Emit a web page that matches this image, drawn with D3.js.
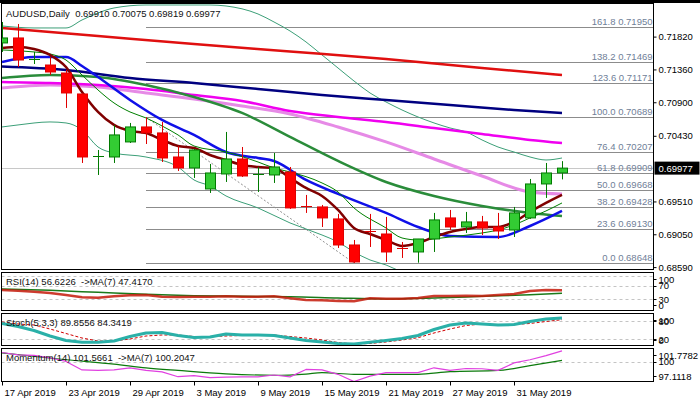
<!DOCTYPE html>
<html>
<head>
<meta charset="utf-8">
<title>AUDUSD Daily</title>
<style>
body { margin: 0; background: #fff; }
svg { display: block; font-family: "Liberation Sans", Arial, sans-serif; font-size: 9.5px; }
.frame { fill: none; stroke: #000; stroke-width: 1px; }
.fib { stroke: #8c8c8c; stroke-width: 1px; }
.fib-label { fill: #6f8098; text-anchor: end; }
.level { stroke: #c4c4c4; stroke-width: 1px; stroke-dasharray: 3,3; }
.axis text { fill: #000; font-size: 9.5px; }
.axis line { stroke: #000; }
.axis .domain { display: none; }
.ind-label { fill: #111; white-space: pre; }
</style>
</head>
<body>
<script src="https://cdnjs.cloudflare.com/ajax/libs/d3/7.8.5/d3.min.js"></script>
<script>
var n = null;

// bars (daily)
var dates = ["2019-04-17","2019-04-18","2019-04-19","2019-04-22","2019-04-23","2019-04-24","2019-04-25","2019-04-26","2019-04-29","2019-04-30",
  "2019-05-01","2019-05-02","2019-05-03","2019-05-06","2019-05-07","2019-05-08","2019-05-09","2019-05-10","2019-05-13","2019-05-14",
  "2019-05-15","2019-05-16","2019-05-17","2019-05-20","2019-05-21","2019-05-22","2019-05-23","2019-05-24","2019-05-27","2019-05-28",
  "2019-05-29","2019-05-30","2019-05-31","2019-06-03","2019-06-04","2019-06-05"];

var opens = [0.71731,0.71801,0.71499,0.71422,0.71310,0.71016,0.70133,0.70133,0.70344,0.70554,
  0.70470,0.70133,0.69979,0.69685,0.69895,0.70105,0.69881,0.69881,0.69923,0.69440,
  0.69433,0.69265,0.68900,0.69096,0.69054,0.68851,0.68802,0.68984,0.69279,0.69152,
  0.69223,0.69152,0.69110,0.69279,0.69755,0.69910];
var highs = [0.72025,0.71997,0.71605,0.71534,0.71352,0.71023,0.70231,0.70582,0.70610,0.70689,
  0.70624,0.70287,0.70245,0.70035,0.70484,0.70273,0.69993,0.70189,0.69993,0.69601,
  0.69461,0.69335,0.68970,0.69335,0.69293,0.68942,0.68984,0.69349,0.69391,0.69363,
  0.69307,0.69349,0.69433,0.69825,0.70049,0.70075];
var lows = [0.71605,0.71394,0.71436,0.71282,0.70820,0.70049,0.69881,0.70049,0.70329,0.70315,
  0.70063,0.69937,0.69839,0.69629,0.69783,0.69853,0.69643,0.69769,0.69405,0.69349,
  0.69152,0.68858,0.68648,0.68872,0.68662,0.68718,0.68652,0.68802,0.69110,0.69068,
  0.69040,0.68984,0.69012,0.69265,0.69559,0.69819];
var closes = [0.71801,0.71492,0.71506,0.71324,0.71030,0.70133,0.70140,0.70442,0.70554,0.70470,
  0.70119,0.69979,0.70231,0.69909,0.70105,0.69867,0.69888,0.69993,0.69419,0.69433,
  0.69279,0.68900,0.68662,0.69082,0.68802,0.68844,0.68984,0.69251,0.69152,0.69223,
  0.69138,0.69096,0.69349,0.69755,0.69909,0.69977];

// moving averages / bands (null = not read)
var maRed = [0.71941,n,n,n,n,n, 0.71829,n,n,n,n,n, 0.71717,n,n,n,n,n, 0.71612,n,n,n,n,n, 0.71506,n,n,n,n,n, 0.71380,n,n,n,n,0.71282];
var maNavy = [0.71401,n,n,n, 0.71352,n,n,n, 0.71240,n,n,n, 0.71170,n,n,n, 0.71086,n,n,n, 0.71002,n,n,n, 0.70932,n,n,n, 0.70862,n,n,n, 0.70792,n,n,0.70750];
var maMagenta = [0.71184,n,n, 0.71170,n,n, 0.71142,n,n, 0.71086,n,n, 0.71002,n,n, 0.70918,n,n, 0.70778,n,n, 0.70694,n,n, 0.70624,n,n, 0.70540,n,n, 0.70456,n,n, 0.70372,n,0.70329];
var maViolet = [0.71100,n,n, 0.71142,n,n, 0.71114,n,n, 0.71030,n,n, 0.70946,n,n, 0.70848,n,n, 0.70736,n,n, 0.70554,n,n, 0.70344,n,n, 0.70105,n,n, 0.69867,n,n, 0.69643,n,0.69615];
var maGreen = [0.71240,n,n, 0.71282,n,n, 0.71254,n,n, 0.71142,n,n, 0.70974,n,n, 0.70750,n,n, 0.70414,n,n, 0.70077,n,n, 0.69783,n,n, 0.69587,n,n, 0.69447,n,n, 0.69349,n,0.69307];
var maBlue = [0.71464,n,0.71534,n,0.71534,0.71408,0.71254,n,0.70932,n,0.70652,n,0.70442,n,0.70203,n,0.70119,0.70077,n,0.69811,
  n,0.69615,n,n,0.69349,n,0.69152,n,0.69026,n,n,0.69012,n,0.69166,n,0.69377];
var maMaroon = [0.71661,0.71675,0.71647,0.71563,0.71394,0.71044,0.70764,0.70582,0.70498,0.70470,
  0.70372,0.70287,0.70259,0.70161,0.70091,0.70021,0.69993,0.69979,0.69839,0.69699,
  0.69587,0.69391,0.69138,0.69054,0.68970,0.68886,0.68928,0.69012,0.69082,0.69124,
  0.69152,0.69152,0.69223,0.69363,0.69489,0.69601];
var maThin = [0.71633,n,0.71605,0.71577,0.71492,0.71282,0.71072,0.70890,0.70764,0.70680,
  0.70568,0.70442,0.70287,n,0.70203,n,0.70063,0.69979,0.69923,n,
  0.69769,0.69643,0.69419,n,0.69138,0.68998,0.68970,n,0.69012,n,
  0.69068,0.69110,0.69181,0.69279,0.69377,0.69489];
var bandUpper = [0.71969,n,0.71941,n,0.71941,0.72053,0.72151,0.72221,n,0.72263,
  n,0.72263,n,0.72263,0.72249,n,0.72137,0.72025,0.71899,0.71745,
  0.71563,0.71380,0.71198,0.71030,0.70904,0.70792,0.70694,0.70610,0.70540,0.70484,
  0.70372,0.70273,0.70203,0.70133,0.70091,0.70119];
var bandLower = [0.70554,0.70582,n,0.70624,0.70610,0.70512,0.70273,0.70189,n,0.70133,
  n,0.69993,0.69811,0.69727,0.69587,n,0.69419,n,0.69209,n,
  0.69040,0.68942,0.68802,0.68690,0.68620,0.68522,n,0.68410,n,n,
  0.68368,n,n,0.68382,n,0.68410];

// fibonacci retracement (anchored at 30 Apr high, 17 May low)
var fibLevels = [0, 23.6, 38.2, 50, 61.8, 76.4, 100, 123.6, 138.2, 161.8];
var fibPrices = [0.68648, 0.69130, 0.69428, 0.69668, 0.69909, 0.70207, 0.70689, 0.71171, 0.71469, 0.71950];
var fibAnchor = ["2019-04-30", "2019-05-17"];

var priceTicks = [0.71820, 0.71360, 0.70900, 0.70430, 0.69510, 0.69050, 0.68590];
var lastPrice = 0.69977;

// indicators
var rsi = [57,55,52,48,42,35,34,38,41,42, 37,36,37,37,38,37,37,38,32,27, 26,24,23,32,31,31,33,39,39,40, 39,42,45,54,57,56.62];
var rsiMA = [60,n,n,56,n,n,50,n,n,44,n,n,40,n,n,38,n,n,37,n,n,33,n,n,30,n,n,33,n,n,38,n,n,43,n,47.42];
var rsiLevels = [100, 70, 30, 0];

var stochK = [71.7,61.7,48.3,30,15,9,9,13.3,28.3,40, 41.7,31.7,25,26.7,36.7,33.3,33.3,31.7,23.3,15,
  10,5,3.3,9,15,21.7,31.7,51.7,66.7,73.3, 70,66.7,68.3,78.3,86.7,89.86];
var stochD = [76.7,70,66.7,53.3,38.3,23.3,13.3,13.3,20,30, 33.3,33.3,28.3,28.3,30,31.7,33.3,33.3,28.3,23.3,
  16.7,8.3,3.3,5,10,16.7,24.3,40,53.3,65, 70,66.7,68.3,71.7,78.3,84.34];
var stochLevels = [100, 80, 20, 0];

var momentum = [101.34,100.99,100.92,100.57,100.04,98.80,98.73,98.80,99.11,98.73,
  98.51,97.81,97.98,97.67,97.74,97.78,97.78,98.06,97.78,98.87,
  98.80,98.16,97.11,97.90,98.40,98.40,98.40,99.11,98.73,99.01,
  98.97,98.73,99.82,100.28,100.89,101.57];
var momMA = [101.27,n,n,n,100.28,n,n,99.65,n,99.11,n,98.73,n,n,98.23,n,n,98.02,n,98.2,98.40,n,98.16,n,n,n,98.16,n,98.54,n,n,98.73,n,99.43,n,100.20];
var momLevels = [101.7782, 100, 97.1118];

var labels = {
  main: "AUDUSD,Daily  0.69910 0.70075 0.69819 0.69977",
  rsi: "RSI(14) 56.6226  ->MA(7) 47.4170",
  stoch: "Stoch(5,3,3) 89.8556 84.3419",
  mom: "Momentum(14) 101.5661  ->MA(7) 100.2047"
};

// ---------------------------------------------------------------
var width = 700, height = 399;
var plotL = 1.5, plotR = 653.5;
var panel = {
  main: [3.5, 269.5],
  rsi: [272.5, 310.5],
  stoch: [313.5, 345.5],
  mom: [348.5, 381.5]
};

var svg = d3.select("body").append("svg")
    .attr("width", width)
    .attr("height", height);

var parse = d3.timeParse("%Y-%m-%d"),
    fmt = d3.timeFormat("%-d %b %Y");

var x = d3.scalePoint().domain(dates).range([2, 562]);
var y = d3.scaleLinear().domain([0.6859, 0.7182]).range([267.1, 36.6]);
var yRsi = d3.scaleLinear().domain([0, 100]).range([309, 275.7]);
var yStoch = d3.scaleLinear().domain([0, 100]).range([345, 315]);
var yMom = d3.scaleLinear().domain([97.1118, 101.7782]).range([381.5, 349.5]);

// top bar
svg.append("rect").attr("x", 0).attr("y", 0).attr("width", width).attr("height", 3).attr("fill", "#000");

// clip paths for each panel
Object.keys(panel).forEach(function(k) {
  svg.append("clipPath").attr("id", "clip-" + k)
    .append("rect")
      .attr("x", plotL + 0.5).attr("y", panel[k][0] + 0.5)
      .attr("width", plotR - plotL - 1).attr("height", panel[k][1] - panel[k][0] - 1);
});

function series(values) {
  return values.map(function(v, i) { return [dates[i], v]; })
    .filter(function(d) { return d[1] !== null; });
}

function drawLine(g, values, scale, color, w, dash, curve) {
  var line = d3.line()
      .x(function(d) { return x(d[0]); })
      .y(function(d) { return scale(d[1]); })
      .curve(curve || d3.curveLinear);
  return g.append("path")
      .datum(series(values))
      .attr("d", line)
      .attr("fill", "none")
      .attr("stroke", color)
      .attr("stroke-width", w)
      .attr("stroke-dasharray", dash || null)
      .attr("stroke-linejoin", "round");
}

// ---------------- main panel ----------------
var main = svg.append("g").attr("clip-path", "url(#clip-main)");

// bid line
main.append("line")
    .attr("x1", plotL).attr("x2", plotR)
    .attr("y1", Math.round(y(lastPrice)) + 0.5).attr("y2", Math.round(y(lastPrice)) + 0.5)
    .attr("stroke", "#c8c8c8");

// fib levels
var fibG = main.append("g");
fibG.selectAll("line").data(fibPrices).enter().append("line")
    .attr("class", "fib")
    .attr("x1", x(fibAnchor[0])).attr("x2", plotR)
    .attr("y1", function(d) { return Math.round(y(d)) + 0.5; })
    .attr("y2", function(d) { return Math.round(y(d)) + 0.5; });
fibG.selectAll("text").data(fibPrices).enter().append("text")
    .attr("class", "fib-label")
    .attr("x", plotR - 1)
    .attr("y", function(d) { return Math.round(y(d)) - 2; })
    .text(function(d, i) { return fibLevels[i].toFixed(1) + " " + d.toFixed(5); });

// fib trend line
main.append("line")
    .attr("x1", x(fibAnchor[0])).attr("y1", y(fibPrices[6]))
    .attr("x2", x(fibAnchor[1])).attr("y2", y(fibPrices[0]))
    .attr("stroke", "#909090").attr("stroke-dasharray", "2,2");

// bands and averages
var smooth = d3.curveMonotoneX;
drawLine(main, bandUpper, y, "#3c9f78", 1, null, smooth);
drawLine(main, bandLower, y, "#3c9f78", 1, null, smooth);
drawLine(main, maRed, y, "#e01010", 2.5, null, smooth);
drawLine(main, maNavy, y, "#000080", 2.5, null, smooth);
drawLine(main, maViolet, y, "#e68ae6", 3, null, smooth);
drawLine(main, maMagenta, y, "#f000f0", 2.5, null, smooth);
drawLine(main, maGreen, y, "#2a8c3a", 2.5, null, smooth);
drawLine(main, maBlue, y, "#1010e8", 2.5, null, smooth);
drawLine(main, maThin, y, "#008000", 1, null, smooth);
drawLine(main, maMaroon, y, "#800000", 2.5, null, smooth);

// candles
var bars = dates.map(function(d, i) {
  return { date: d, o: opens[i], h: highs[i], l: lows[i], c: closes[i] };
});
var candle = main.append("g").selectAll("g").data(bars).enter().append("g")
    .attr("transform", function(d) { return "translate(" + (x(d.date) + 0.5) + ",0)"; });

function upCol(d) { return d.c >= d.o ? "#007a00" : "#e00000"; }

candle.append("line")
    .attr("y1", function(d) { return y(d.h); })
    .attr("y2", function(d) { return y(d.l); })
    .attr("stroke", upCol);

candle.each(function(d) {
  var g = d3.select(this);
  var top = y(Math.max(d.o, d.c)), bot = y(Math.min(d.o, d.c));
  if (bot - top < 1.5) {
    g.append("line")
        .attr("x1", -5.5).attr("x2", 5.5)
        .attr("y1", Math.round(top) + 0.5).attr("y2", Math.round(top) + 0.5)
        .attr("stroke", upCol(d));
  } else {
    g.append("rect")
        .attr("x", -5).attr("width", 10)
        .attr("y", top).attr("height", bot - top)
        .attr("fill", d.c >= d.o ? "#33cc33" : "#ff0000")
        .attr("stroke", upCol(d));
  }
});

svg.append("text").attr("class", "ind-label")
    .attr("x", 6).attr("y", 17)
    .text(labels.main);

// price axis
svg.append("g")
    .attr("class", "axis")
    .attr("transform", "translate(" + plotR + ",0)")
    .call(d3.axisRight(y).tickValues(priceTicks).tickSize(3).tickPadding(2)
      .tickFormat(d3.format(".5f")));

var lp = y(lastPrice);
svg.append("rect")
    .attr("x", plotR + 1).attr("y", lp - 6.5)
    .attr("width", 45).attr("height", 13)
    .attr("fill", "#000");
svg.append("text")
    .attr("x", plotR + 5).attr("y", lp + 3.5)
    .attr("fill", "#fff")
    .text(lastPrice.toFixed(5));

// ---------------- indicator panels ----------------
function levelPanel(key, scale, levels, fmtLevel) {
  var top = panel[key][0], bot = panel[key][1];
  var g = svg.append("g");
  levels.forEach(function(v) {
    var yy = scale(v);
    var inside = yy > top + 2 && yy < bot - 2;
    if (inside) {
      g.append("line").attr("class", "level")
          .attr("x1", plotL).attr("x2", plotR)
          .attr("y1", Math.round(yy) + 0.5).attr("y2", Math.round(yy) + 0.5);
    }
    var ly = Math.min(Math.max(yy, top + 6.5), bot - 5.5);
    g.append("line").attr("x1", plotR).attr("x2", plotR + 3)
        .attr("y1", Math.round(ly) + 0.5).attr("y2", Math.round(ly) + 0.5)
        .attr("stroke", "#000");
    g.append("text")
        .attr("x", plotR + 5).attr("y", ly + 3.5)
        .attr("fill", "#000")
        .text(fmtLevel(v));
  });
  return svg.append("g").attr("clip-path", "url(#clip-" + key + ")");
}

var rsiG = levelPanel("rsi", yRsi, rsiLevels, String);
drawLine(rsiG, rsiMA, yRsi, "#1a7a1a", 1.5, null, d3.curveMonotoneX);
drawLine(rsiG, rsi, yRsi, "#c41a0a", 2.5).attr("stroke-opacity", 0.85);
svg.append("text").attr("class", "ind-label").attr("x", 6).attr("y", panel.rsi[0] + 12.5).text(labels.rsi);

var stochG = levelPanel("stoch", yStoch, stochLevels, String);
drawLine(stochG, stochD, yStoch, "#d00000", 1, "3,2");
drawLine(stochG, stochK, yStoch, "#2ab0a8", 3);
svg.append("text").attr("class", "ind-label").attr("x", 6).attr("y", panel.stoch[0] + 12.5).text(labels.stoch);

var momG = levelPanel("mom", yMom, momLevels, function(v) { return v === 100 ? "100" : v.toFixed(4); });
drawLine(momG, momMA, yMom, "#0c7a0c", 1.2, null, d3.curveMonotoneX);
drawLine(momG, momentum, yMom, "#e040e0", 1.2);
svg.append("text").attr("class", "ind-label").attr("x", 6).attr("y", panel.mom[0] + 12.5).text(labels.mom);

// frames
Object.keys(panel).forEach(function(k) {
  svg.append("rect").attr("class", "frame")
      .attr("x", plotL).attr("y", panel[k][0])
      .attr("width", plotR - plotL).attr("height", panel[k][1] - panel[k][0]);
});

// time axis
var tickDates = dates.filter(function(d, i) { return i % 4 === 0; });
var tg = svg.append("g").selectAll("g").data(tickDates).enter().append("g")
    .attr("transform", function(d) { return "translate(" + (x(d) + 0.5) + "," + panel.mom[1] + ")"; });
tg.append("line").attr("y1", 0).attr("y2", 4).attr("stroke", "#000");
tg.append("text").attr("x", 2).attr("y", 14.5).attr("fill", "#000")
    .text(function(d) { return fmt(parse(d)); });
</script>
</body>
</html>
